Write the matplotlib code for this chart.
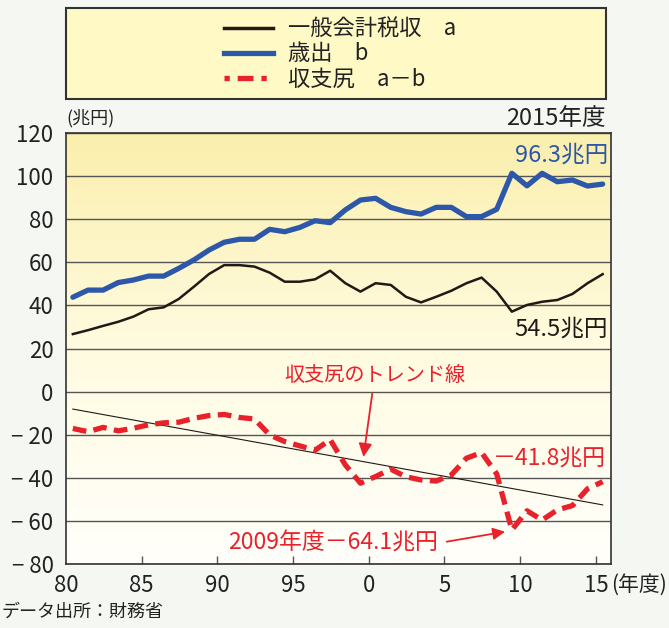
import numpy as np
import matplotlib
matplotlib.use("Agg")
import matplotlib.pyplot as plt
import matplotlib.patches as mpatches
from matplotlib.colors import LinearSegmentedColormap
from matplotlib.lines import Line2D

plt.rcParams['font.family'] = ['Noto Sans CJK JP', 'DejaVu Sans']

# fiscal years 1980-2015, trillion yen
years = list(range(1980, 2016))
tax_revenue = [26.7, 28.5, 30.5, 32.4, 34.8, 38.2, 39.1, 43.0, 48.7, 54.6,
               58.7, 58.7, 58.0, 55.2, 51.0, 51.0, 52.1, 56.1, 50.3, 46.4,
               50.3, 49.5, 44.0, 41.4, 44.0, 46.8, 50.3, 52.9, 46.4, 37.1,
               40.2, 41.7, 42.5, 45.3, 50.3, 54.5]
expenditure = [43.8, 47.1, 47.1, 50.6, 51.8, 53.6, 53.6, 57.2, 61.1, 65.7,
               69.3, 70.7, 70.7, 75.3, 74.2, 76.2, 79.3, 78.4, 84.3, 88.9,
               89.7, 85.5, 83.5, 82.4, 85.5, 85.5, 81.2, 81.2, 84.6, 101.3,
               95.5, 101.3, 97.4, 98.2, 95.4, 96.3]
yticks = [120, 100, 80, 60, 40, 20, 0, -20, -40, -60, -80]
ytick_labels = ['120', '100', '80', '60', '40', '20', '0',
                '− 20', '− 40', '− 60', '− 80']
xticks = [1980, 1985, 1990, 1995, 2000, 2005, 2010, 2015]
xtick_labels = ['80', '85', '90', '95', '0', '5', '10', '15']

BLACK = '#231815'
BLUE = '#2d57a8'
RED = '#e8212b'
BG = '#f5f8f2'

x = np.array(years) + 0.45  # values sit in the middle of each fiscal year
a = np.array(tax_revenue)
b = np.array(expenditure)
balance = a - b
slope, icpt = np.polyfit(x, balance, 1)

fig = plt.figure(figsize=(6.69, 6.28), dpi=100, facecolor=BG)
ax = fig.add_axes([0.0987, 0.1019, 0.8146, 0.6863])
ax.set_xlim(1980, 2016)
ax.set_ylim(-80, 120)

# yellow gradient background
cmap = LinearSegmentedColormap.from_list('bg', ['#fffffb', '#fffbe0', '#fbefad'])
grad = np.linspace(0, 1, 256).reshape(-1, 1)
ax.imshow(grad, extent=[1980, 2016, -80, 120], origin='lower', aspect='auto',
          cmap=cmap, zorder=0, interpolation='bicubic')

for yv in yticks:
    ax.axhline(yv, color='#555555', lw=1.0, zorder=1)

ax.plot(x, icpt + slope * x, color=BLACK, lw=0.8, zorder=2)
ax.plot(x, a, color=BLACK, lw=1.8, solid_joinstyle='round', zorder=3)
ax.plot(x, b, color=BLUE, lw=3.8, solid_joinstyle='round', solid_capstyle='round', zorder=3)
ax.plot(x, balance, color=RED, lw=3.8, linestyle=(0, (2.6, 1.4)),
        dash_joinstyle='round', zorder=4)

ax.set_yticks(yticks, ytick_labels)
ax.set_xticks(xticks, xtick_labels)
ax.tick_params(axis='y', length=0, pad=9, labelsize=16, labelcolor='#222222')
ax.tick_params(axis='x', direction='in', length=6, width=1, color='#555555',
               pad=7, labelsize=16, labelcolor='#222222')
ax.xaxis.get_major_ticks()[0].tick1line.set_visible(False)
for s in ax.spines.values():
    s.set_color('#333333')
    s.set_linewidth(1.2)
    s.set_zorder(5)

# annotations
ax.text(2015.8, 110, '96.3兆円', color=BLUE, fontsize=17, ha='right', va='center')
ax.text(2015.8, 29, '54.5兆円', color=BLACK, fontsize=17, ha='right', va='center')
ax.annotate('収支尻のトレンド線', xy=(1999.65, -30.3), xytext=(2000.4, 7.7),
            color=RED, fontsize=14.5, ha='center', va='center',
            arrowprops=dict(arrowstyle='-|>', color=RED, lw=1.3,
                            mutation_scale=20, shrinkA=4, shrinkB=0))
ax.text(2008.2, -30.8, '－41.8兆円', color=RED, fontsize=16.5, ha='left', va='center')
ax.annotate('2009年度－64.1兆円', xy=(2009.0, -65.0), xytext=(2004.6, -70.3),
            color=RED, fontsize=16.5, ha='right', va='center',
            arrowprops=dict(arrowstyle='-|>', color=RED, lw=1.3, mutation_scale=18,
                            relpos=(1, 0.5), shrinkA=4, shrinkB=0))

# legend box
box = mpatches.Rectangle((66 / 669, 1 - 99 / 628), (606 - 66) / 669, 91 / 628,
                         transform=fig.transFigure, facecolor='#fff9c6',
                         edgecolor='#333333', lw=1.5)
fig.patches.append(box)
handles = [Line2D([], [], color=BLACK, lw=2.5),
           Line2D([], [], color=BLUE, lw=3.8),
           Line2D([], [], color=RED, lw=3.8, linestyle=(0, (1.0, 1.5, 3.0, 1.5)))]
labels = ['一般会計税収　a', '歳出　b', '収支尻　a－b']
fig.legend(handles, labels, loc='center', bbox_to_anchor=(340 / 669, 1 - 54 / 628),
           frameon=False, fontsize=16, handlelength=2.2, handletextpad=0.7,
           labelspacing=0.1, labelcolor='#222222')

fig.text(66 / 669, 1 - 118 / 628, '(兆円)', fontsize=13, ha='left', va='center', color='#222222')
fig.text(606 / 669, 1 - 118 / 628, '2015年度', fontsize=17, ha='right', va='center', color='#222222')
fig.text(611 / 669, 1 - 585 / 628, '(年度)', fontsize=15, ha='left', va='center', color='#222222')
fig.text(0.002, 1 - 612 / 628, 'データ出所：財務省', fontsize=13, ha='left', va='center', color='#222222')

fig.savefig('out.png', dpi=100, facecolor=BG)
